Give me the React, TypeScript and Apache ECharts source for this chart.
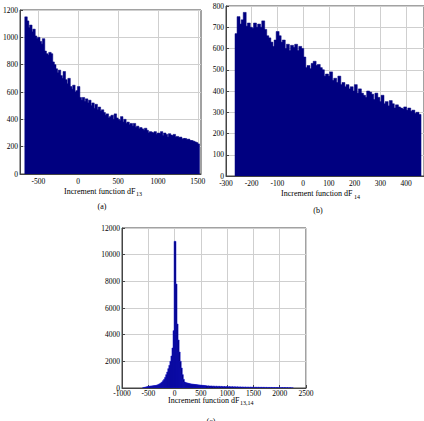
import React, { useEffect, useRef } from 'react';
import * as echarts from 'echarts';

// (a) histogram of dF13: bins start at -670, width 20
const startA = -670;
const binWidthA = 20;
const countsA = [
  1150, 1120, 1070, 1090, 1040, 1060, 1010, 990, 1000, 970, 950, 990,
  900, 880, 870, 890, 880, 820, 800, 770, 740, 760, 720, 700,
  750, 690, 660, 700, 640, 620, 650, 600, 610, 640, 560, 540,
  560, 530, 550, 520, 540, 500, 520, 480, 510, 470, 490, 460,
  470, 450, 430, 440, 410, 420, 430, 400, 440, 410, 400, 390,
  420, 380, 400, 370, 380, 360, 370, 350, 370, 340, 350, 330,
  340, 330, 320, 335, 320, 300, 310, 305, 300, 310, 290, 300,
  295, 310, 280, 300, 290, 270, 295, 285, 280, 290, 270, 275,
  265, 270, 255, 260, 260, 250, 255, 245, 245, 240, 235, 230, 220,
];

// (b) histogram of dF14: bins start at -265, width 8
const startB = -265;
const binWidthB = 8;
const countsB = [
  670, 750, 715, 735, 770, 705, 720, 700, 695, 720, 700, 715,
  700, 730, 690, 660, 650, 630, 610, 640, 680, 660, 630, 640,
  600, 620, 590, 615, 605, 620, 590, 610, 600, 560, 510, 520,
  505, 530, 540, 520, 525, 510, 500, 470, 480, 470, 490, 450,
  460, 440, 470, 430, 440, 420, 430, 410, 420, 400, 430, 390,
  410, 390, 380, 370, 400, 395, 385, 360, 390, 370, 350, 380,
  340, 350, 330, 355, 340, 320, 335, 325, 320, 315, 325, 310,
  320, 305, 310, 295, 300, 290,
];

// (c) histogram of dF13,14: core bins (width 20 from -610) and tail bins (width 50 from 590)
const startCcore = -610;
const binWidthCcore = 20;
const countsCcore = [
  20, 40, 60, 80, 100, 120, 130, 140, 150, 160,
  170, 180, 190, 210, 240, 280, 320, 380, 450, 550,
  650, 800, 1000, 1200, 1450, 1700, 2000, 2400, 3000, 4300,
  11000, 7800, 4800, 3600, 2700, 2000, 1500, 1000, 650, 450,
  400, 380, 360, 340, 320, 300, 290, 280, 270, 260,
  250, 240, 230, 220, 210, 200, 195, 190, 180, 170,
];
const startCtail = 590;
const binWidthCtail = 50;
const countsCtail = [
  160, 150, 140, 130, 125, 120, 110, 105, 100, 95, 90, 85, 80, 75, 70, 65,
  60, 58, 55, 52, 50, 48, 45, 42, 40, 38, 35, 32, 30, 28, 25, 20, 15,
];

const ticksA = [-500, 0, 500, 1000, 1500];
const ticksB = [-300, -200, -100, 0, 100, 200, 300, 400];
const ticksC = [-1000, -500, 0, 500, 1000, 1500, 2000, 2500];

const FONT = '"Liberation Serif", "DejaVu Serif", serif';
const BAR = '#000080';

function toBins(start: number, w: number, counts: number[]) {
  return counts.map((c, i) => [start + i * w, start + (i + 1) * w, c]);
}

function histSeries(idx: number, data: number[][], stroke: string, lw: number) {
  return {
    type: 'custom',
    xAxisIndex: idx,
    yAxisIndex: idx,
    clip: true,
    encode: { x: [0, 1], y: 2 },
    data,
    renderItem: (_p: any, api: any) => {
      const x0 = api.value(0);
      const x1 = api.value(1);
      const y = api.value(2);
      const a = api.coord([x0, y]);
      const b = api.coord([x1, 0]);
      return {
        type: 'rect',
        shape: { x: a[0], y: a[1], width: b[0] - a[0] + 0.9, height: b[1] - a[1] },
        style: { fill: BAR, stroke, lineWidth: lw },
      };
    },
  };
}

function xAxis(idx: number, min: number, max: number, ticks: number[], margin: number) {
  return {
    type: 'value',
    gridIndex: idx,
    min,
    max,
    axisLine: { show: true, onZero: false, lineStyle: { color: '#444', width: 1 } },
    axisTick: { show: true, inside: true, length: 3, customValues: ticks, lineStyle: { color: '#444' } },
    axisLabel: {
      customValues: ticks,
      margin,
      fontSize: 7.5,
      fontFamily: FONT,
      color: '#000',
      formatter: (v: number) => String(v),
    },
    splitLine: { show: true, lineStyle: { color: '#cfcfcf', width: 1 } },
  };
}

function yAxis(idx: number, max: number, interval: number) {
  return {
    type: 'value',
    gridIndex: idx,
    min: 0,
    max,
    interval,
    axisLine: { show: true, onZero: false, lineStyle: { color: '#444', width: 1 } },
    axisTick: { show: true, inside: true, length: 3, lineStyle: { color: '#444' } },
    axisLabel: {
      margin: 2,
      fontSize: 7.5,
      fontFamily: FONT,
      color: '#000',
      formatter: (v: number) => String(v),
    },
    splitLine: { show: true, lineStyle: { color: '#cfcfcf', width: 1 } },
  };
}

function label(x: number, y: number, text: string, size: number, align = 'left') {
  return {
    type: 'text',
    x,
    y,
    silent: true,
    style: {
      text,
      fill: '#000',
      font: `${size}px ${FONT}`,
      align,
      verticalAlign: 'middle',
    },
  };
}

export default function App() {
  const ref = useRef<HTMLDivElement>(null);
  useEffect(() => {
    if (!ref.current) return;
    const chart = echarts.init(ref.current, undefined, { renderer: 'svg' });
    const grid = (left: number, top: number, width: number, height: number) => ({
      left, top, width, height, show: true, borderColor: '#444', borderWidth: 1, backgroundColor: 'transparent',
    });
    chart.setOption({
      animation: false,
      backgroundColor: '#ffffff',
      grid: [grid(14, 10, 187, 164), grid(226, 6, 198, 170), grid(122, 228, 184, 160)],
      xAxis: [
        xAxis(0, -730, 1540, ticksA, 3),
        xAxis(1, -300, 470, ticksB, 3),
        xAxis(2, -1000, 2500, ticksC, 1),
      ],
      yAxis: [yAxis(0, 1200, 200), yAxis(1, 800, 100), yAxis(2, 12000, 2000)],
      series: [
        histSeries(0, toBins(startA, binWidthA, countsA), BAR, 0.5),
        histSeries(1, toBins(startB, binWidthB, countsB), BAR, 0.5),
        histSeries(2, [
          ...toBins(startCcore, binWidthCcore, countsCcore),
          ...toBins(startCtail, binWidthCtail, countsCtail),
        ], '#1a1ad0', 0.5),
      ],
      graphic: [
        label(64, 191, 'Increment function dF', 8),
        label(136, 194, '13', 6),
        label(102, 206, '(a)', 8, 'center'),
        label(281, 193, 'Increment function dF', 8),
        label(354, 197, '14', 6),
        label(318, 210, '(b)', 8, 'center'),
        label(168, 400, 'Increment function dF', 8),
        label(240, 403, '13,14', 6),
        label(211, 421, '(c)', 8, 'center'),
      ],
    });
    return () => chart.dispose();
  }, []);
  return (
    <div
      ref={ref}
      style={{ position: 'absolute', left: 0, top: 0, width: 424, height: 421, background: '#fff' }}
    />
  );
}
